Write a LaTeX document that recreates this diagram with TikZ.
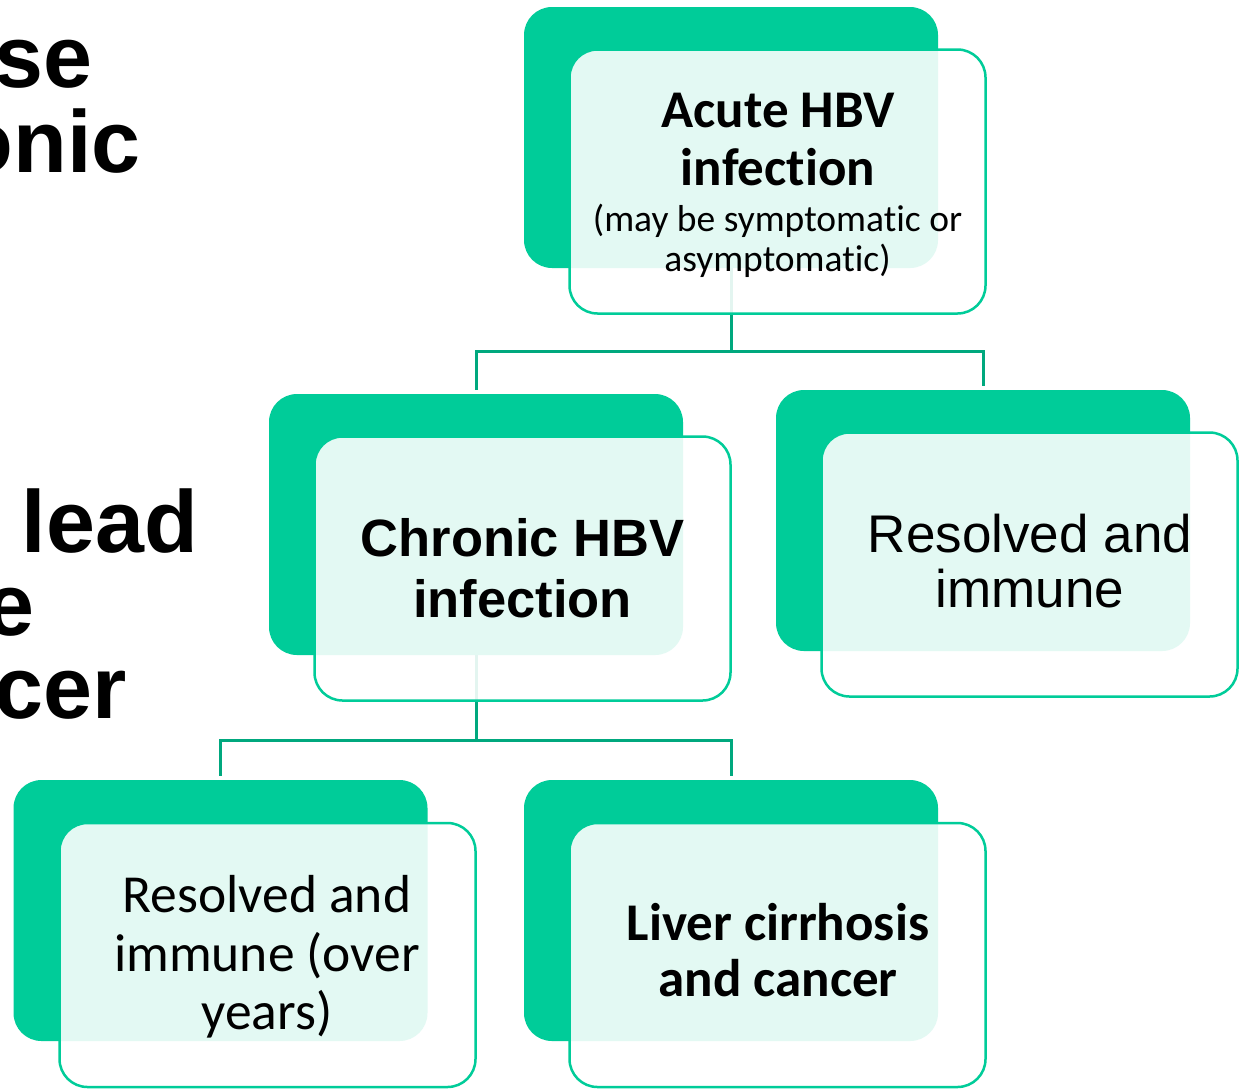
\documentclass[tikz,border=0pt]{standalone}
\usepackage{fontspec}
\newfontfamily\calfont{Carlito}[Ligatures=NoCommon]
\newfontfamily\arifont{Liberation Sans}
\definecolor{hbgreen}{RGB}{0,204,153}
\definecolor{hbline}{RGB}{0,168,126}
\pgfdeclarelayer{paper}
\pgfdeclarelayer{bg}
\pgfsetlayers{paper,bg,main}
\begin{document}
\begin{tikzpicture}[x=1pt,y=-1pt,
  backbox/.style={draw=none, fill=hbgreen, rounded corners=28pt, minimum width=414pt, minimum height=261pt, inner sep=0pt},
  frontbox/.style={draw=hbgreen, line width=2.5pt, fill=white, fill opacity=0.89, rounded corners=28pt, minimum width=416pt, minimum height=264pt, inner sep=0pt},
  conn/.style={draw=hbline, line width=3pt},
  txt/.style={inner sep=0pt, align=center, text=black},
  frag/.style={inner sep=0pt, anchor=base east, font=\arifont\bfseries\fontsize{88}{88}\selectfont}]
\useasboundingbox (0,0) rectangle (1244,1088);
\begin{pgfonlayer}{paper}
\fill[white] (0,0) rectangle (1244,1088);
\end{pgfonlayer}
\clip (0,0) rectangle (1244,1088);

% title fragments at the left
\node[frag] (f1) at (93,87) {se};
\node[frag] (f2) at (141,172) {onic};
\node[frag] (f3) at (198,552) {lead};
\node[frag] (f4) at (35,635) {e};
\node[frag] (f5) at (127,718) {cer};

% back boxes
\node[backbox] (acuteback) at (731,137.5) {};
\node[backbox] (chronicback) at (476,524.5) {};
\node[backbox] (resolvedback) at (983,520.5) {};
\node[backbox] (yearsback) at (220.5,910.5) {};
\node[backbox] (cancerback) at (731,910.5) {};

% connectors (behind boxes)
\begin{pgfonlayer}{bg}
\coordinate (j1) at ([yshift=-83pt]acuteback.south);
\draw[conn] (acuteback.center) -- (j1);
\draw[conn, shorten >=4pt] (j1) -| (chronicback.north);
\draw[conn, shorten >=4pt] (j1) -| (resolvedback.north);
\coordinate (j2) at ([yshift=-85pt]chronicback.south);
\draw[conn] (chronicback.center) -- (j2);
\draw[conn, shorten >=4pt] (j2) -| (yearsback.north);
\draw[conn, shorten >=4pt] (j2) -| (cancerback.north);
\end{pgfonlayer}

% front boxes
\node[frontbox] (acutefront) at (777.5,181.5) {};
\node[frontbox] (chronicfront) at (522.5,568.5) {};
\node[frontbox] (resolvedfront) at (1029.5,564.5) {};
\node[frontbox] (yearsfront) at (267.5,955) {};
\node[frontbox] (cancerfront) at (777.5,955) {};

% texts
\node[txt, font=\calfont\bfseries\fontsize{53}{58}\selectfont] (acutetitle) at (778,140) {Acute HBV\\infection};
\node[txt, font=\calfont\fontsize{37.5}{40}\selectfont] (acutesub) at (777.5,241) {(may be symptomatic or\\asymptomatic)};
\node[txt, font=\arifont\bfseries\fontsize{52.5}{61}\selectfont] (chronictxt) at (522.5,568.5) {Chronic HBV\\infection};
\node[txt, font=\arifont\fontsize{53}{55}\selectfont] (resolvedtxt) at (1030,561.5) {Resolved and\\immune};
\node[txt, font=\calfont\fontsize{53.5}{58.5}\selectfont] (yearstxt) at (267,957) {Resolved and\\immune (over\\years)};
\node[txt, font=\calfont\bfseries\fontsize{53}{56}\selectfont] (cancertxt) at (778,950.5) {Liver cirrhosis\\and cancer};
\end{tikzpicture}
\end{document}
